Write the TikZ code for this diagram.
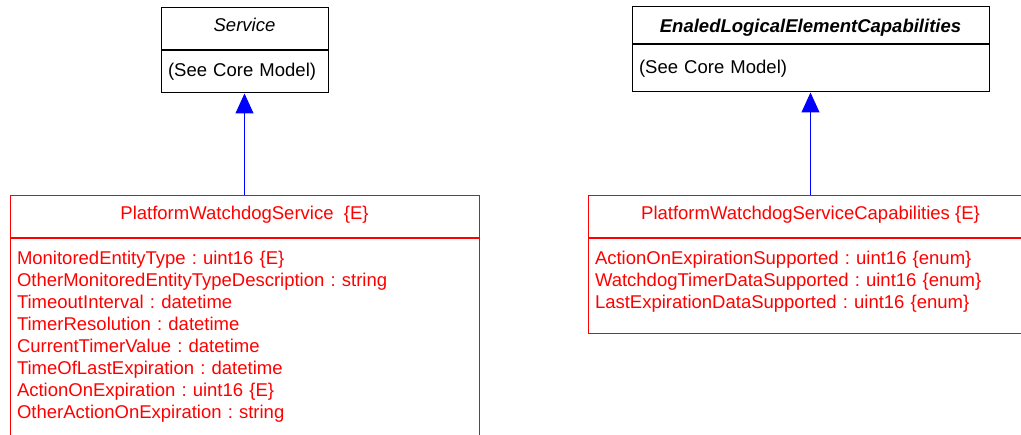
\documentclass[tikz,border=0pt]{standalone}
\usepackage{fontspec}
\setmainfont{Liberation Sans}
\usetikzlibrary{arrows.meta,positioning}

\tikzset{
  umlfont/.style={font=\fontsize{18.5}{22}\selectfont\frenchspacing},
  classhead/.style={draw,line width=1pt,umlfont,inner sep=0pt,text height=13.2pt,text depth=8pt,align=center},
  classbody/.style={draw,line width=1pt,umlfont,inner xsep=7pt,inner ysep=12pt,align=left},
  inherit/.style={blue,line width=1pt,-{Triangle[length=20pt,width=18pt]}}
}

\begin{document}
\begin{tikzpicture}[x=1pt,y=-1pt]
\path[use as bounding box,clip] (0,0) rectangle (1021,435);
\node[classhead,minimum width=167,minimum height=42] (svc) at (244.5,29) {\textit{Service}};
\node[classbody,below=0pt of svc,minimum height=42,text width=153] (svcbody) {(See Core Model)};
\node[classhead,minimum width=357,minimum height=37,text depth=0pt] (elec) at (810.5,25.5)
    {\textbf{\textit{EnaledLogicalElementCapabilities}}};
\node[classbody,below=0pt of elec,minimum height=47,text width=343] (elecbody) {(See Core Model)};
\node[classhead,red,minimum width=469,minimum height=42] (pws) at (244.5,217) {PlatformWatchdogService~ \{E\}};
\node[classbody,red,below=0pt of pws,text width=455] (pwsbody) {MonitoredEntityType : uint16 \{E\}\\
    OtherMonitoredEntityTypeDescription : string\\
    TimeoutInterval : datetime\\
    TimerResolution : datetime\\
    CurrentTimerValue : datetime\\
    TimeOfLastExpiration : datetime\\
    ActionOnExpiration : uint16 \{E\}\\
    OtherActionOnExpiration : string\\[-9pt]\mbox{}};
\node[classhead,red,minimum width=445,minimum height=42] (caps) at (810.5,217) {PlatformWatchdogServiceCapabilities \{E\}};
\node[classbody,red,below=0pt of caps,text width=431] (capsbody) {ActionOnExpirationSupported : uint16 \{enum\}\\
    WatchdogTimerDataSupported : uint16 \{enum\}\\
    LastExpirationDataSupported : uint16 \{enum\}\\[-9pt]\mbox{}};
\draw[inherit] (pws.north) -- (svcbody.south);
\draw[inherit] (caps.north) -- (elecbody.south);
\end{tikzpicture}
\end{document}
